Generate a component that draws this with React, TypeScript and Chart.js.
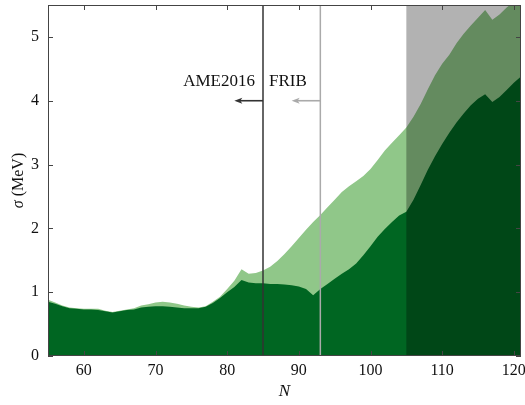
import React, { useEffect, useRef } from "react";
import { Chart, registerables } from "chart.js";

Chart.register(...registerables);

const N = [55,56,57,58,59,60,61,62,63,64,65,66,67,68,69,70,71,72,73,74,75,76,77,78,79,80,81,82,83,84,85,86,87,88,89,90,91,92,93,94,95,96,97,98,99,100,101,102,103,104,105,106,107,108,109,110,111,112,113,114,115,116,117,118,119,120,121];
const sigmaLower = [0.85,0.82,0.78,0.75,0.74,0.73,0.73,0.72,0.70,0.68,0.70,0.72,0.73,0.76,0.77,0.78,0.78,0.77,0.76,0.75,0.75,0.75,0.77,0.83,0.91,1.00,1.08,1.19,1.15,1.14,1.14,1.13,1.13,1.12,1.11,1.09,1.05,0.95,1.05,1.13,1.21,1.29,1.36,1.45,1.58,1.72,1.87,1.99,2.10,2.20,2.26,2.45,2.68,2.92,3.13,3.32,3.50,3.66,3.80,3.93,4.03,4.10,3.98,4.06,4.17,4.28,4.38];
const sigmaUpper = [0.88,0.84,0.79,0.76,0.75,0.74,0.74,0.74,0.71,0.69,0.71,0.73,0.75,0.79,0.81,0.84,0.85,0.84,0.82,0.79,0.77,0.76,0.78,0.85,0.93,1.05,1.18,1.36,1.29,1.30,1.34,1.40,1.49,1.60,1.72,1.85,1.98,2.10,2.21,2.33,2.45,2.57,2.66,2.74,2.82,2.93,3.07,3.22,3.34,3.46,3.58,3.75,3.95,4.18,4.40,4.58,4.72,4.90,5.05,5.18,5.30,5.42,5.27,5.35,5.46,5.55,5.62];
const xTicks = [60, 70, 80, 90, 100, 110, 120];
const yTicks = [0, 1, 2, 3, 4, 5];
const ame2016N = 85;
const fribN = 93;
const shadeStartN = 105;
const arrowY = 4;
const ameArrowTip = 81;
const fribArrowTip = 89;

const FONT = "'Liberation Serif', 'DejaVu Serif', serif";

function arrow(ctx: CanvasRenderingContext2D, x0: number, x1: number, y: number, color: string) {
  ctx.save();
  ctx.strokeStyle = color;
  ctx.fillStyle = color;
  ctx.lineWidth = 1.6;
  ctx.beginPath();
  ctx.moveTo(x0, y);
  ctx.lineTo(x1 + 5, y);
  ctx.stroke();
  ctx.beginPath();
  ctx.moveTo(x1, y);
  ctx.lineTo(x1 + 8, y - 3);
  ctx.lineTo(x1 + 6, y);
  ctx.lineTo(x1 + 8, y + 3);
  ctx.closePath();
  ctx.fill();
  ctx.restore();
}

const overlayPlugin = {
  id: "overlay",
  afterDatasetsDraw(chart: any) {
    const { ctx, chartArea } = chart;
    const xs = chart.scales.x;
    const ys = chart.scales.y;
    const { left, right, top, bottom } = chartArea;
    ctx.save();
    // shaded region
    const xs0 = xs.getPixelForValue(shadeStartN);
    ctx.fillStyle = "rgba(0,0,0,0.3)";
    ctx.fillRect(xs0, top, right - xs0, bottom - top);
    // vertical lines
    const xa = xs.getPixelForValue(ame2016N);
    const xf = xs.getPixelForValue(fribN);
    ctx.lineWidth = 1.5;
    ctx.strokeStyle = "#aaaaaa";
    ctx.beginPath();
    ctx.moveTo(xf, top);
    ctx.lineTo(xf, bottom);
    ctx.stroke();
    ctx.strokeStyle = "#333333";
    ctx.beginPath();
    ctx.moveTo(xa, top);
    ctx.lineTo(xa, bottom);
    ctx.stroke();
    // arrows
    const ay = ys.getPixelForValue(arrowY);
    arrow(ctx, xa, xs.getPixelForValue(ameArrowTip), ay, "#333333");
    arrow(ctx, xf, xs.getPixelForValue(fribArrowTip), ay, "#aaaaaa");
    // annotation text
    ctx.fillStyle = "#111";
    ctx.font = `17px ${FONT}`;
    ctx.textBaseline = "alphabetic";
    ctx.textAlign = "right";
    ctx.fillText("AME2016", xa - 8, ay - 15);
    ctx.textAlign = "left";
    ctx.fillText("FRIB", xa + 6, ay - 15);
    // frame
    ctx.strokeStyle = "#444";
    ctx.lineWidth = 1;
    ctx.strokeRect(left + 0.5, top + 0.5, right - left - 1, bottom - top - 1);
    // inward ticks
    ctx.beginPath();
    for (const t of xTicks) {
      const px = Math.round(xs.getPixelForValue(t)) + 0.5;
      ctx.moveTo(px, bottom);
      ctx.lineTo(px, bottom - 5);
      ctx.moveTo(px, top);
      ctx.lineTo(px, top + 5);
    }
    for (const t of yTicks) {
      const py = Math.round(ys.getPixelForValue(t)) + 0.5;
      ctx.moveTo(left, py);
      ctx.lineTo(left + 5, py);
      ctx.moveTo(right, py);
      ctx.lineTo(right - 5, py);
    }
    ctx.stroke();
    // y title
    ctx.save();
    ctx.translate(23, (top + bottom) / 2);
    ctx.rotate(-Math.PI / 2);
    ctx.font = `italic 16px ${FONT}`;
    const w1 = ctx.measureText("σ").width;
    ctx.font = `16px ${FONT}`;
    const rest = " (MeV)";
    const w2 = ctx.measureText(rest).width;
    const start = -(w1 + w2) / 2;
    ctx.textAlign = "left";
    ctx.font = `italic 16px ${FONT}`;
    ctx.fillText("σ", start, 0);
    ctx.font = `16px ${FONT}`;
    ctx.fillText(rest, start + w1, 0);
    ctx.restore();
    ctx.restore();
  },
};

function zeroPad(s: any) {
  s.paddingTop = 0;
  s.paddingBottom = 0;
  s.paddingLeft = 0;
  s.paddingRight = 0;
}

export default function App() {
  const ref = useRef<HTMLCanvasElement | null>(null);
  useEffect(() => {
    if (!ref.current) return;
    const chart = new Chart(ref.current, {
      type: "line",
      data: {
        datasets: [
          {
            label: "lower",
            data: N.map((n, i) => ({ x: n, y: sigmaLower[i] })),
            backgroundColor: "#006622",
            borderWidth: 0,
            pointRadius: 0,
            tension: 0,
            fill: "origin",
          },
          {
            label: "upper",
            data: N.map((n, i) => ({ x: n, y: sigmaUpper[i] })),
            backgroundColor: "#90c789",
            borderWidth: 0,
            pointRadius: 0,
            tension: 0,
            fill: "origin",
          },
        ],
      },
      options: {
        animation: false,
        responsive: false,
        maintainAspectRatio: false,
        layout: { padding: { top: 5, right: 4, left: 0, bottom: 0 } },
        plugins: { legend: { display: false }, tooltip: { enabled: false } },
        scales: {
          x: {
            type: "linear",
            min: 55,
            max: 121,
            afterFit: (s: any) => { s.height = 49; zeroPad(s); },
            afterBuildTicks: (s: any) => { s.ticks = xTicks.map((v) => ({ value: v })); },
            grid: { display: false, drawTicks: false },
            border: { display: false },
            ticks: { color: "#111", font: { family: FONT, size: 16 }, padding: 5, maxRotation: 0 },
            title: { display: true, text: "N", color: "#111", font: { family: FONT, size: 17, style: "italic" }, padding: { top: 0, bottom: 3 } },
          },
          y: {
            type: "linear",
            min: 0,
            max: 5.5,
            afterFit: (s: any) => { s.width = 48; zeroPad(s); },
            afterBuildTicks: (s: any) => { s.ticks = yTicks.map((v) => ({ value: v })); },
            grid: { display: false, drawTicks: false },
            border: { display: false },
            ticks: { color: "#111", font: { family: FONT, size: 16 }, padding: 9 },
          },
        },
      },
      plugins: [overlayPlugin],
    } as any);
    return () => chart.destroy();
  }, []);
  return (
    <div style={{ position: "fixed", left: 0, top: 0, width: 525, height: 405, background: "#fff" }}>
      <canvas ref={ref} width={525} height={405} style={{ width: 525, height: 405 }} />
    </div>
  );
}
